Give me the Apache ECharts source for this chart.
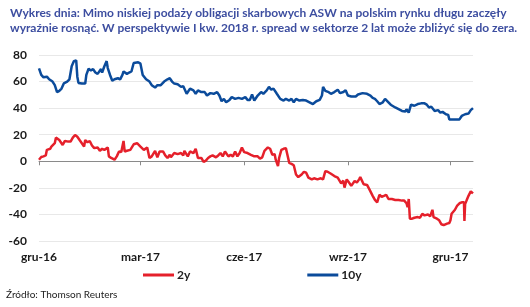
<!DOCTYPE html>
<html><head><meta charset="utf-8">
<script src="https://cdn.jsdelivr.net/npm/echarts@6/dist/echarts.min.js"></script>
<style>html,body{margin:0;padding:0;background:#fff}#c{width:530px;height:307px}</style>
</head><body><div id="c"></div>
<script>
// days since 2016-12-01
const tickDays = [0, 90, 182, 274, 365];
const tickLabels = ['gru-16', 'mar-17', 'cze-17', 'wrz-17', 'gru-17'];
const yTicks = [-60, -40, -20, 0, 20, 40, 60, 80];

const days10y = [0,2,4,7,9,12,14,16,18,20,22,25,27,29,31,33,34,35,38,41,42,44,46,48,50,52,55,56,58,60,61,63,65,67,70,72,74,75,78,80,82,84,88,90,92,95,98,100,103,105,108,111,114,116,118,120,123,126,128,131,134,137,139,141,144,147,149,152,155,158,160,162,164,166,169,171,174,177,180,183,185,187,189,191,194,197,199,202,204,206,208,211,214,217,219,222,224,226,228,231,234,237,240,243,246,249,251,252,254,257,259,262,265,267,270,272,274,277,281,283,287,291,294,296,298,300,302,305,307,310,312,316,319,322,325,326,328,330,333,336,339,342,344,346,348,351,354,356,358,361,363,364,367,370,373,375,378,381,383,385];
const vals10y = [70,65,63.2,63.7,61.7,60,57.3,52,53,54.7,58.6,60,61.7,71.5,75.4,76,63.7,59,58.5,58.5,65,69.7,68.4,69.4,66.8,65.8,69.4,66.8,71.5,75.4,70.2,65,60.6,61.7,62.5,61.7,65,67.6,65.8,66.8,67.6,74,74.6,73.5,65,61.7,60,57.3,55.5,57.3,57.3,60,61.7,62.5,60,58.5,58,56,56.5,50.8,54.7,53.4,50.8,53.4,52.1,52.1,49.5,51.3,50.8,52.1,49.5,45.2,47,44.4,46.2,48.3,47,47.7,47,48.3,46.2,46.2,50.3,45.7,49.5,52.1,50.8,53.4,56,53.9,54.7,50.8,47,45.7,47,45.7,47,44.4,47,45.7,46.2,45.7,44.4,43.1,45.2,46.2,49.5,56,53,52,50.8,52.1,53.9,51.3,52.1,53.4,49.5,48.8,48.8,50.3,51.3,50.8,49.5,47.7,47,45.2,43.1,44.4,47,44.4,42.6,40.5,39.2,37.9,37.4,39.2,36.6,42.6,41.8,43.1,43.6,43.6,42.6,40.5,41.1,37.9,38.5,36.6,37.2,35.4,34.9,31.5,31.5,31.5,31.5,34.1,35.4,35.9,38.5,40];

const days2y = [0,2,4,6,7,10,11,12,14,15,18,19,21,23,26,28,30,32,34,36,38,40,41,43,45,47,49,52,54,56,58,61,62,64,67,69,71,73,75,76,78,81,84,87,90,93,96,98,100,103,105,107,110,112,114,116,117,120,123,126,128,129,132,134,137,139,141,144,146,148,150,152,154,157,159,161,163,165,168,170,172,174,176,178,180,182,185,188,191,194,196,198,200,203,205,207,209,210,212,213,215,217,219,220,222,224,226,228,230,233,235,237,239,242,244,247,250,252,254,256,259,262,265,268,270,271,273,275,277,280,282,284,285,288,291,293,296,298,300,302,304,306,308,310,313,316,319,322,324,326,327,328,329,331,333,336,338,340,342,345,347,349,350,353,355,357,359,362,364,365,366,369,371,373,375,377,377.4,378,379,381,383,385];
const vals2y = [1.2,3.2,3.7,4.4,8.6,9.4,11.1,11.9,13.6,17.8,16,14.8,12.3,15.3,14.8,14.8,17.8,19.8,18.5,16,13.6,11.1,16,14.3,15.3,11.9,9.9,10.4,7.9,9.4,8.6,10.4,3.7,2.5,1.2,3.7,7.4,6.9,15.3,7.4,7.9,8.6,12.8,13.6,11.1,8.6,10.4,2.5,3.7,7.9,3,7.4,7.4,4.4,2.5,4.9,3,6.2,5.4,6.2,4.4,7.9,3.7,7.4,6.2,9.4,2.5,2.5,-0.5,0.5,2.5,3.7,4.4,3,4.4,6.2,3.7,7.4,3.7,4.9,3.7,7.4,3.7,6.2,10.4,6.9,6.2,4.9,3.7,3.7,2,3,7.9,10.4,9.4,4.9,5.4,1.2,-3.7,2.5,8.6,9.4,9.9,6.2,-1.2,-2,-3,-9.9,-11.9,-9.9,-7.9,-8.6,-12.3,-13.6,-12.8,-13.6,-12.8,-13.6,-7.4,-7.9,-9.4,-11.1,-12.3,-16.6,-14.6,-19.8,-13.6,-16,-18.5,-14.8,-16,-13.6,-11.9,-17.3,-17.8,-21,-26,-29.1,-30.9,-25.2,-26.7,-26,-25.2,-28.4,-28.4,-29.1,-29.1,-29.6,-29.6,-31.6,-34.6,-28.4,-43.2,-43.2,-42.5,-42,-42.5,-39.5,-40.7,-40,-41.5,-36.5,-42,-43.2,-44.4,-47.4,-48.1,-46.9,-46.4,-44.4,-39.5,-36.5,-33.3,-31.6,-30.9,-30.9,-45,-32.1,-30.1,-26,-22.7,-24.2];

const titleText = 'Wykres dnia: Mimo niskiej podaży obligacji skarbowych ASW na polskim rynku długu zaczęły\nwyraźnie rosnąć. W perspektywie I kw. 2018 r. spread w sektorze 2 lat może zbliżyć się do zera.';
const sourceText = 'Źródło: Thomson Reuters';

const FONT = 'Lato';
const pair = (d, v) => d.map((x, i) => [x, v[i]]);
const chart = echarts.init(document.getElementById('c'), null, {renderer: 'canvas'});
chart.setOption({
  animation: false,
  backgroundColor: '#fff',
  title: {
    text: titleText, left: 5, top: 1,
    textStyle: {color: '#3d4ea0', fontSize: 12, fontWeight: 'bold', fontFamily: FONT, lineHeight: 15}
  },
  graphic: [{
    type: 'text', left: 6, top: 290,
    style: {text: sourceText, fill: '#222', fontSize: 10, fontFamily: FONT}
  }],
  legend: {
    left: 138, top: 264, itemWidth: 31, itemHeight: 3, itemGap: 117,
    icon: 'rect',
    textStyle: {color: '#222', fontSize: 12, fontWeight: 'bold', fontFamily: FONT, padding: [0,0,0,-2]},
    data: ['2y', '10y']
  },
  grid: {left: 39, right: 57, top: 55, bottom: 66, containLabel: false},
  xAxis: [{
    type: 'value', min: 0, max: 385,
    axisLine: {onZero: true, lineStyle: {color: '#8a8a8a', width: 1}},
    axisTick: {show: true, length: 4, customValues: tickDays, lineStyle: {color: '#8a8a8a'}},
    axisLabel: {show: false},
    splitLine: {show: false}
  }, {
    type: 'value', min: 0, max: 385, position: 'bottom',
    axisLine: {show: false, onZero: false},
    axisTick: {show: false},
    splitLine: {show: false},
    axisLabel: {
      show: true, margin: 10, customValues: tickDays,
      color: '#1a1a1a', fontSize: 12, fontWeight: 'bold', fontFamily: FONT,
      formatter: v => tickLabels[tickDays.indexOf(v)] || ''
    }
  }],
  yAxis: {
    type: 'value', min: -60, max: 80, interval: 20,
    axisLine: {show: false}, axisTick: {show: false},
    splitLine: {lineStyle: {color: '#e8e8e8', width: 1}},
    axisLabel: {margin: 12, color: '#1a1a1a', fontSize: 12, fontWeight: 'bold', fontFamily: FONT,
      formatter: v => yTicks.indexOf(v) >= 0 ? String(v) : ''}
  },
  series: [{
    name: '2y', type: 'line', xAxisIndex: 0, data: pair(days2y, vals2y),
    showSymbol: false, symbol: 'none', color: '#e5202b',
    lineStyle: {color: '#e5202b', width: 2.5}, z: 3
  }, {
    name: '10y', type: 'line', xAxisIndex: 0, data: pair(days10y, vals10y),
    showSymbol: false, symbol: 'none', color: '#0b4b9b',
    lineStyle: {color: '#0b4b9b', width: 2.5}, z: 3
  }]
});
</script></body></html>
